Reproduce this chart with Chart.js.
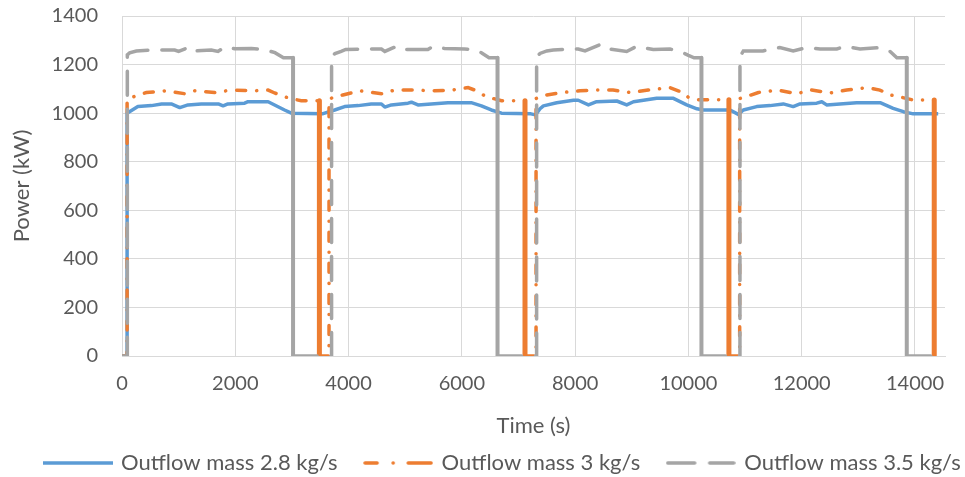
<!DOCTYPE html>
<html>
<head>
<meta charset="utf-8">
<script src="https://cdn.jsdelivr.net/npm/chart.js@4.4.1/dist/chart.umd.min.js"></script>
<style>
html,body{margin:0;padding:0;background:#ffffff;}
#wrap{width:965px;height:477px;}
</style>
</head>
<body>
<div id="wrap"><canvas id="c" width="965" height="477"></canvas></div>
<script>
// ---- data ----
const seriesNames = ['Outflow mass 2.8 kg/s', 'Outflow mass 3 kg/s', 'Outflow mass 3.5 kg/s'];

const time28 = [0, 90, 90, 280, 520, 700, 870, 1020, 1165, 1400, 1700, 1785, 1870, 2165, 2225, 2580, 2870, 2990, 3550, 3755,
  3930, 4170, 4400, 4580, 4640, 4755, 5050, 5110, 5225, 5460, 5755, 6165, 6345, 6520, 6700, 7220, 7300, 7380, 7440, 7675,
  7970, 8055, 8235, 8380, 8735, 8910, 9030, 9440, 9735, 9970, 10150, 10265, 10735, 10880, 10970, 11205, 11440, 11675, 11850, 11970,
  12265, 12355, 12440, 12675, 12970, 13385, 13615, 13795, 13970, 14410];
const power28 = [0, 0, 1000, 1027, 1031, 1038, 1038, 1023, 1034, 1038, 1038, 1030, 1038, 1041, 1047, 1047, 1013, 1000, 998, 1013,
  1027, 1031, 1038, 1038, 1025, 1034, 1041, 1045, 1034, 1038, 1043, 1043, 1030, 1013, 1000, 997, 993, 1018, 1030, 1043,
  1053, 1053, 1034, 1047, 1050, 1034, 1047, 1061, 1061, 1034, 1018, 1013, 1013, 995, 1013, 1027, 1031, 1038, 1027, 1038,
  1041, 1047, 1034, 1038, 1043, 1043, 1020, 1006, 997, 997];

const time30 = [0, 90, 90, 230, 430, 780, 1105, 1285, 1635, 1930, 2315, 2580, 2695, 2930, 3165, 3485, 3485, 3655, 3655, 3700,
  3900, 4200, 4580, 4815, 5195, 5490, 5815, 6110, 6225, 6430, 6700, 7115, 7115, 7310, 7310, 7400, 7500, 7765, 8085, 8380,
  8670, 8970, 9290, 9675, 9900, 10000, 10150, 10715, 10715, 10905, 10905, 10970, 11235, 11580, 11910, 12175, 12500, 12795, 13150, 13380,
  13560, 13705, 13970, 14340, 14340];
const power30 = [0, 0, 1055, 1070, 1085, 1092, 1080, 1092, 1085, 1095, 1092, 1095, 1083, 1063, 1051, 1051, 0, 0, 1055, 1062,
  1075, 1092, 1080, 1095, 1095, 1092, 1095, 1105, 1095, 1068, 1051, 1051, 0, 0, 1060, 1068, 1075, 1085, 1092, 1095,
  1095, 1085, 1095, 1105, 1085, 1065, 1055, 1055, 0, 0, 1060, 1064, 1085, 1095, 1080, 1095, 1083, 1095, 1105, 1095,
  1075, 1068, 1054, 1054, 0];

const time35 = [0, 94, 94, 135, 253, 520, 930, 1000, 1195, 1285, 1575, 1695, 1815, 1990, 2285, 2520, 2700, 2850, 3020, 3020,
  3700, 3700, 3760, 3870, 3950, 4225, 4580, 4640, 4845, 4930, 5225, 5400, 5490, 5695, 6050, 6225, 6345, 6480, 6630, 6630,
  7320, 7320, 7380, 7500, 7615, 7910, 8055, 8175, 8470, 8615, 8910, 9085, 9380, 9675, 9850, 10000, 10100, 10230, 10230, 10910,
  10910, 10970, 11315, 11615, 11850, 12090, 12325, 12620, 12765, 13030, 13385, 13560, 13680, 13855, 13855, 14410];
const power35 = [0, 0, 1240, 1248, 1256, 1260, 1260, 1254, 1273, 1256, 1260, 1254, 1273, 1265, 1266, 1262, 1249, 1228, 1228, 0,
  0, 1235, 1245, 1254, 1262, 1264, 1264, 1254, 1275, 1262, 1262, 1262, 1275, 1266, 1264, 1262, 1249, 1228, 1228, 0,
  0, 1232, 1246, 1256, 1260, 1264, 1264, 1256, 1285, 1264, 1254, 1275, 1262, 1264, 1254, 1238, 1228, 1228, 0, 0,
  1232, 1256, 1256, 1270, 1256, 1270, 1264, 1264, 1275, 1264, 1270, 1254, 1228, 1228, 0, 0];

const xTickValues = [0, 2000, 4000, 6000, 8000, 10000, 12000, 14000];
const yTickValues = [0, 200, 400, 600, 800, 1000, 1200, 1400];
const xMin = 0, xMax = 14530;
const yMin = 0, yMax = 1400;

// ---- styling ----
const colors = ['#5B9BD5', '#ED7D31', '#A5A5A5'];
const textColor = '#595959';
const gridColor = '#d9d9d9';
const FONT = 'Lato';
const padLeft = -40;   // lets the full-width legend row fit on one line

function toPoints(xs, ys) { return xs.map((x, i) => ({ x: x, y: ys[i] })); }
function fixedTicks(values) { return s => { s.ticks = values.map(v => ({ value: v })); }; }

// drops (rapid oscillations in the source) render as solid strokes
function dropSegment(width) {
  const isDrop = c => (c.p0.parsed.y - c.p1.parsed.y) > 500;
  return {
    borderDash: c => (isDrop(c) ? [] : undefined),
    borderWidth: c => (isDrop(c) ? width : undefined)
  };
}

function sample(color, dash, width, w, cap, x0) {
  const c = document.createElement('canvas');
  c.width = w; c.height = 8;
  const g = c.getContext('2d');
  g.strokeStyle = color; g.lineWidth = width; g.lineCap = cap;
  g.setLineDash(dash);
  g.beginPath(); g.moveTo(x0, 4); g.lineTo(w - x0, 4); g.stroke();
  return c;
}
const legendSamples = [
  sample(colors[0], [], 3.5, 70, 'butt', 0),
  sample(colors[1], [12, 16, 0.1, 15, 40, 10], 3.5, 70, 'round', 2),
  sample(colors[2], [27, 15], 3.5, 70, 'round', 2)
];

const legendFirstBox = 45, legendMid = 463;
const legendPlace = {
  id: 'legendPlace',
  afterLayout(chart) {
    const lg = chart.legend;
    const p = lg.options.labels.padding;
    lg.left = legendFirstBox - p; lg.right = chart.width + 60;
    lg.top = legendMid - p - lg.options.labels.font.size / 2; lg.bottom = chart.height;
  }
};

new Chart(document.getElementById('c'), {
  type: 'line',
  data: {
    datasets: [
      { label: seriesNames[0], data: toPoints(time28, power28), borderColor: colors[0], backgroundColor: colors[0],
        borderWidth: 3.5, pointRadius: 0, tension: 0, order: 3, borderJoinStyle: 'round' },
      { label: seriesNames[1], data: toPoints(time30, power30), borderColor: colors[1], backgroundColor: colors[1],
        borderWidth: 3.5, borderDash: [9, 11, 0.1, 11], borderCapStyle: 'round', pointRadius: 0, tension: 0, order: 2,
        segment: dropSegment(5) },
      { label: seriesNames[2], data: toPoints(time35, power35), borderColor: colors[2], backgroundColor: colors[2],
        borderWidth: 3.5, borderDash: [24, 14], borderCapStyle: 'round', pointRadius: 0, tension: 0, order: 1,
        segment: dropSegment(4) }
    ]
  },
  options: {
    responsive: false,
    animation: false,
    layout: { padding: { top: 16, right: 0, left: padLeft, bottom: 0 } },
    scales: {
      x: {
        type: 'linear', min: xMin, max: xMax,
        afterBuildTicks: fixedTicks(xTickValues),
        ticks: { padding: 16, color: textColor, font: { family: FONT, size: 20 },
          maxRotation: 0, autoSkip: false, callback: v => String(v) },
        grid: { color: gridColor, lineWidth: 1, drawTicks: false },
        border: { color: gridColor, width: 1 },
        title: { display: true, text: 'Time (s)', color: textColor, font: { family: FONT, size: 22 }, padding: { top: 0, bottom: 8 } },
        afterFit: s => { s.height = 91; s.paddingLeft = 0; s.paddingRight = 0; }
      },
      y: {
        min: yMin, max: yMax,
        afterBuildTicks: fixedTicks(yTickValues),
        ticks: { padding: 24, color: textColor, font: { family: FONT, size: 20 }, callback: v => String(v) },
        grid: { color: gridColor, lineWidth: 1, drawTicks: false },
        border: { display: false },
        title: { display: true, text: 'Power (kW)', color: textColor, font: { family: FONT, size: 22 }, padding: { top: 9 - padLeft, bottom: 0 } },
        afterFit: s => { s.width = 122 - padLeft; s.paddingTop = 0; s.paddingBottom = 0; }
      },
      yRight: {
        position: 'right', display: true,
        grid: { display: false, drawTicks: false }, border: { display: false }, ticks: { display: false },
        afterFit: s => { s.width = 20; s.paddingTop = 0; s.paddingBottom = 0; }
      }
    },
    plugins: {
      legend: {
        position: 'bottom', align: 'start', maxHeight: 30,
        labels: {
          usePointStyle: true, pointStyleWidth: 65, padding: 28, color: textColor,
          font: { family: FONT, size: 22 },
          sort: (a, b) => a.datasetIndex - b.datasetIndex,
          generateLabels(chart) {
            const items = Chart.defaults.plugins.legend.labels.generateLabels(chart);
            items.forEach(it => { it.pointStyle = legendSamples[it.datasetIndex]; });
            return items;
          }
        }
      },
      tooltip: { enabled: false }
    }
  },
  plugins: [legendPlace]
});
</script>
</body>
</html>
